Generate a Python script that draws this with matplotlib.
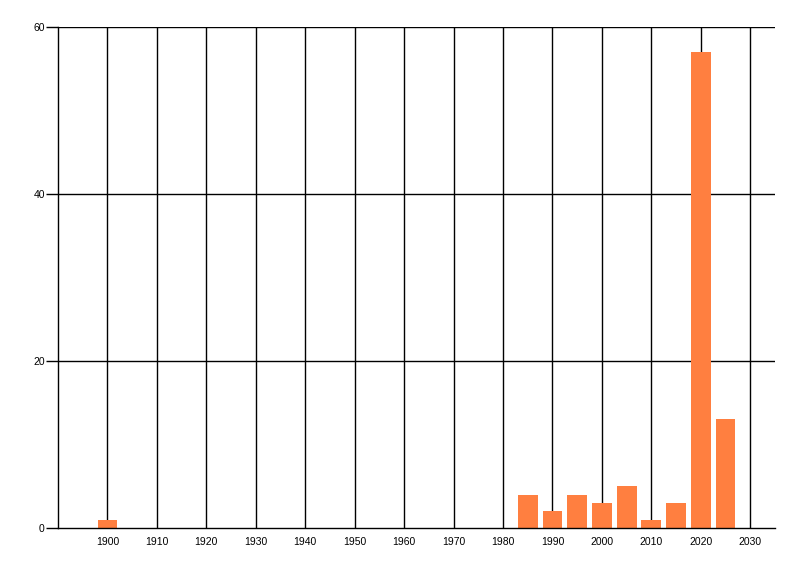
import matplotlib
matplotlib.use('Agg')
import matplotlib.pyplot as plt

years = [1900, 1985, 1990, 1995, 2000, 2005, 2010, 2015, 2020, 2025]
counts = [1, 4, 2, 4, 3, 5, 1, 3, 57, 13]
x_ticks = list(range(1900, 2031, 10))
y_ticks = [0, 20, 40, 60]

plt.rcParams['font.family'] = ['Liberation Sans', 'DejaVu Sans']

fig = plt.figure(figsize=(8, 5.76), dpi=100)
ax = fig.add_axes([58 / 800, 48 / 576, 717 / 800, 501 / 576])

# grid first, bars on top
for xt in x_ticks:
    ax.axvline(xt, color='black', lw=1, zorder=1)
for yt in y_ticks[1:]:
    ax.axhline(yt, color='black', lw=1, zorder=1)

ax.bar(years, counts, width=4, color='#ff7f40', zorder=2)

ax.set_xlim(1890, 2035)
ax.set_ylim(0, 60)
ax.set_xticks(x_ticks)
ax.set_yticks(y_ticks)
ax.tick_params(axis='x', length=0, pad=6.5, labelsize=7.5)
ax.tick_params(axis='y', length=9, width=1, labelsize=7.5, pad=0.5)

for side in ['top', 'right']:
    ax.spines[side].set_visible(False)
ax.spines['left'].set_linewidth(1)
ax.spines['bottom'].set_linewidth(1)

fig.savefig('out.png', dpi=100)
